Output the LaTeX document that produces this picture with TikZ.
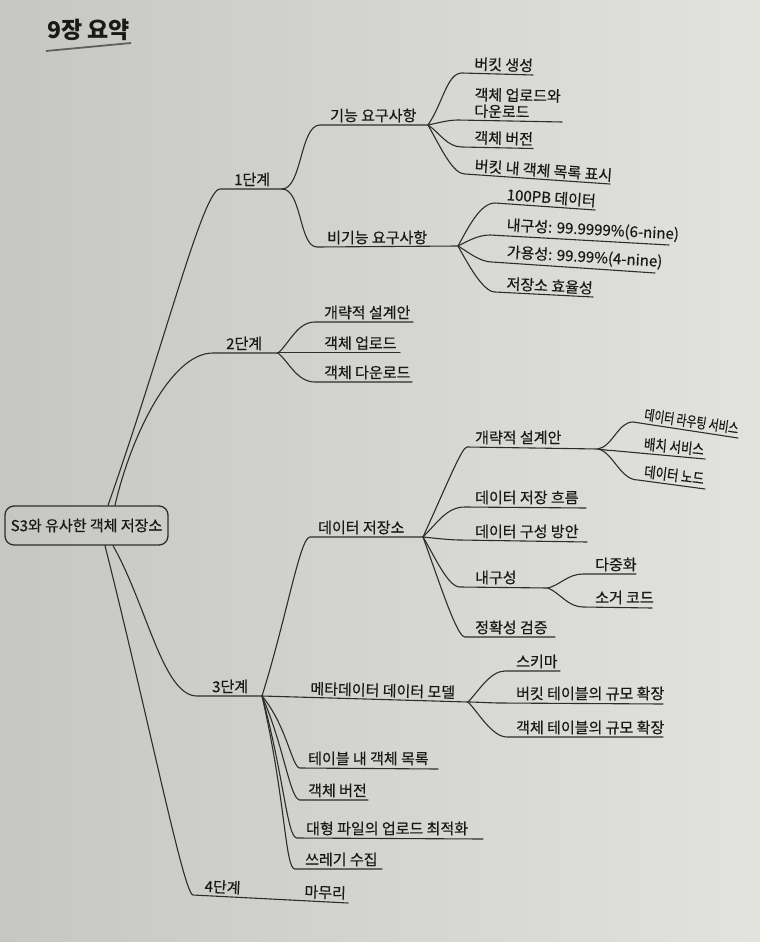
\documentclass[tikz,border=0pt]{standalone}
\usepackage{fontspec}
\usepackage{graphicx}
\setmainfont{Noto Sans CJK KR}
\newfontfamily\inkfont{Noto Sans CJK KR}[FakeBold=0.5]
\usetikzlibrary{calc}
\definecolor{paperL}{RGB}{198,198,194}
\definecolor{paperR}{RGB}{226,226,222}
\definecolor{ink}{RGB}{25,25,25}
\definecolor{wire}{RGB}{45,45,45}
\definecolor{rulec}{RGB}{95,95,95}
\newcommand\mmitem[6][]{%
  \node[lab,#1] (#2) at #3 {#6};
  \coordinate (#2-in) at #4;
  \coordinate (#2-out) at #5;
}
\begin{document}
\begin{tikzpicture}[x=1pt,y=-1pt,
  lab/.style={inner xsep=0pt,inner ysep=2.5pt,anchor=south west,text=ink,font=\inkfont\fontsize{15}{16.5}\selectfont},
  wirec/.style={draw=wire,line width=1.1pt,line cap=round},
  rootbox/.style={draw=wire,line width=1.3pt,rounded corners=9pt,minimum width=163pt,minimum height=39pt,inner sep=0pt,text=ink,font=\inkfont\fontsize{15}{16.5}\selectfont},
  titlef/.style={anchor=base west,inner sep=0pt,text=ink,font=\fontsize{23}{26}\selectfont\bfseries}]
\shade[left color=paperL,right color=paperR] (0,0) rectangle (760,942);
\useasboundingbox (0,0) rectangle (760,942);
% title
\node[titlef] (title) at (47,39) {9장 요약};
\coordinate (tl) at (46,51);
\coordinate (tr) at (131,43);
\draw[draw=rulec,line width=1.8pt] (tl) -- (tr);
% root
\node[rootbox] (root) at (86.5,525.5) {S3와 유사한 객체 저장소};
\coordinate (r1) at ([xshift=21.5pt]root.north);
\coordinate (r2) at ([xshift=28.5pt]root.north);
\coordinate (r3) at ([xshift=26.5pt]root.south);
\coordinate (r4) at ([xshift=18.5pt]root.south);
% stages
\mmitem{s1}{(234,189)}{(220,189)}{(282,189)}{1단계}
\mmitem{s2}{(226,353)}{(213,353)}{(278,353)}{2단계}
\mmitem{s3}{(212,696)}{(197,696)}{(262,696)}{3단계}
\mmitem[rotate=-3]{s4}{(204,895.5)}{(193,895)}{(290,900)}{4단계}
\draw[wirec] (r1) .. controls +(56,-159) and +(-17,0) .. (s1-in) -- (s1-out);
\draw[wirec] (r2) .. controls +(15,-66) and +(-43,0) .. (s2-in) -- (s2-out);
\draw[wirec] (r3) .. controls +(34,60) and +(-34,0) .. (s3-in) -- (s3-out);
\draw[wirec] (r4) .. controls +(44,175) and +(-9,0) .. (s4-in) -- (s4-out);
% 4단계
\mmitem[rotate=-2]{m1}{(304,901)}{(290,900)}{(348,903)}{마무리}
\draw[wirec] (s4-out) -- (m1-in) -- (m1-out);
% 1단계
\mmitem{a1}{(330,125)}{(320,125)}{(428,125)}{기능 요구사항}
\mmitem{a2}{(327,247)}{(317,247)}{(458,246)}{비기능 요구사항}
\draw[wirec] (s1-out) .. controls +(20,0) and +(-20,0) .. (a1-in) -- (a1-out);
\draw[wirec] (s1-out) .. controls +(20,0) and +(-18,0) .. (a2-in) -- (a2-out);
\mmitem[rotate=-1.5]{d1}{(474,73.5)}{(462,73)}{(533,75)}{버킷 생성}
\mmitem[rotate=-1,align=left]{d2}{(474,120.5)}{(458,120)}{(562,122)}{객체 업로드와\\다운로드}
\mmitem[rotate=-1.5]{d3}{(474,147)}{(462,147)}{(533,148.5)}{객체 버전}
\mmitem[rotate=-4]{d4}{(474,175)}{(465,174)}{(610,184)}{버킷 내 객체 목록 표시}
\draw[wirec] (a1-out) .. controls +(15,-22) and +(-15,0) .. (d1-in) -- (d1-out);
\draw[wirec] (a1-out) .. controls +(10,-2) and +(-10,0) .. (d2-in) -- (d2-out);
\draw[wirec] (a1-out) .. controls +(12,8) and +(-15,0) .. (d3-in) -- (d3-out);
\draw[wirec] (a1-out) .. controls +(14,25) and +(-12,0) .. (d4-in) -- (d4-out);
\mmitem[rotate=-4]{e1}{(506,204)}{(495,203)}{(595,210)}{100PB 데이터}
\mmitem[rotate=-3]{e2}{(506,236)}{(490,235)}{(669,245)}{내구성: 99.9999\%(6-nine)}
\mmitem[rotate=-3.5]{e3}{(506,263)}{(492,262)}{(655,273)}{가용성: 99.99\%(4-nine)}
\mmitem[rotate=-3]{e4}{(506,293)}{(495,292)}{(593,297)}{저장소 효율성}
\draw[wirec] (a2-out) .. controls +(10,-18) and +(-15,0) .. (e1-in) -- (e1-out);
\draw[wirec] (a2-out) .. controls +(10,-5) and +(-12,0) .. (e2-in) -- (e2-out);
\draw[wirec] (a2-out) .. controls +(10,6) and +(-12,0) .. (e3-in) -- (e3-out);
\draw[wirec] (a2-out) .. controls +(10,18) and +(-12,0) .. (e4-in) -- (e4-out);
% 2단계
\mmitem{b1}{(324,322)}{(315,322)}{(413,322)}{개략적 설계안}
\mmitem{b2}{(324,352.6)}{(278,352.6)}{(400,352.6)}{객체 업로드}
\mmitem{b3}{(324,382)}{(315,382)}{(412,382)}{객체 다운로드}
\draw[wirec] (s2-out) .. controls +(11,-9) and +(-18,0) .. (b1-in) -- (b1-out);
\draw[wirec] (s2-out) -- (b2-in) -- (b2-out);
\draw[wirec] (s2-out) .. controls +(11,9) and +(-18,0) .. (b3-in) -- (b3-out);
% 3단계
\mmitem{c1}{(318,537)}{(310,537)}{(423,537)}{데이터 저장소}
\mmitem[rotate=-1.5]{c2}{(310,698)}{(262,696)}{(468,702)}{메타데이터 데이터 모델}
\mmitem{c3}{(308,768)}{(300,768)}{(438,769)}{테이블 내 객체 목록}
\mmitem{c4}{(308,800)}{(300,800)}{(368,800)}{객체 버전}
\mmitem{c5}{(306,838)}{(297,838)}{(483,839)}{대형 파일의 업로드 최적화}
\mmitem{c6}{(305,869)}{(295,869)}{(382,869)}{쓰레기 수집}
\draw[wirec] (s3-out) .. controls +(25,-80) and +(-10,0) .. (c1-in) -- (c1-out);
\draw[wirec] (s3-out) -- (c2-in) -- (c2-out);
\draw[wirec] (s3-out) .. controls +(25,30) and +(-8,0) .. (c3-in) -- (c3-out);
\draw[wirec] (s3-out) .. controls +(22,50) and +(-10,0) .. (c4-in) -- (c4-out);
\draw[wirec] (s3-out) .. controls +(22,80) and +(-10,0) .. (c5-in) -- (c5-out);
\draw[wirec] (s3-out) .. controls +(24,105) and +(-10,0) .. (c6-in) -- (c6-out);
% 데이터 저장소
\mmitem{f1}{(475,447)}{(467,447)}{(598,449)}{개략적 설계안}
\mmitem{f2}{(475,507)}{(465,507)}{(586,508)}{데이터 저장 흐름}
\mmitem{f3}{(475,541)}{(460,540)}{(587,542)}{데이터 구성 방안}
\mmitem{f4}{(475,587)}{(460,587)}{(548,588)}{내구성}
\mmitem{f5}{(475,637)}{(465,637)}{(555,637)}{정확성 검증}
\draw[wirec] (c1-out) .. controls +(25,-55) and +(-5,0) .. (f1-in) -- (f1-out);
\draw[wirec] (c1-out) .. controls +(15,-15) and +(-18,0) .. (f2-in) -- (f2-out);
\draw[wirec] (c1-out) .. controls +(10,1) and +(-10,0) .. (f3-in) -- (f3-out);
\draw[wirec] (c1-out) .. controls +(12,20) and +(-12,0) .. (f4-in) -- (f4-out);
\draw[wirec] (c1-out) .. controls +(18,50) and +(-8,0) .. (f5-in) -- (f5-out);
\mmitem[rotate=-8.5]{g1}{(643,423.5)}{(633,422)}{(738,438)}{\scalebox{0.75}[1]{\fontsize{14.5}{15}\selectfont 데이터 라우팅 서비스}}
\mmitem[rotate=-5.3]{g2}{(643,453.3)}{(612,450.5)}{(705,459)}{\scalebox{0.83}[1]{배치 서비스}}
\mmitem[rotate=-7]{g3}{(643,480.8)}{(638,480)}{(705,489)}{\scalebox{0.83}[1]{데이터 노드}}
\draw[wirec] (f1-out) .. controls +(15,-3) and +(-15,0) .. (g1-in) -- (g1-out);
\draw[wirec] (f1-out) .. controls +(6,0.5) and +(-6,0) .. (g2-in) -- (g2-out);
\draw[wirec] (f1-out) .. controls +(15,3) and +(-18,0) .. (g3-in) -- (g3-out);
\mmitem{h1}{(595,574)}{(583,574)}{(636,574)}{다중화}
\mmitem{h2}{(595,607)}{(583,607)}{(652,608)}{소거 코드}
\draw[wirec] (f4-out) .. controls +(12,-3) and +(-15,0) .. (h1-in) -- (h1-out);
\draw[wirec] (f4-out) .. controls +(12,5) and +(-15,0) .. (h2-in) -- (h2-out);
% 메타데이터
\mmitem{i1}{(516,671)}{(505,671)}{(560,671)}{스키마}
\mmitem{i2}{(516,703)}{(500,703)}{(663,704)}{버킷 테이블의 규모 확장}
\mmitem{i3}{(516,737)}{(507,737)}{(663,737)}{객체 테이블의 규모 확장}
\draw[wirec] (c2-out) .. controls +(10,-10) and +(-15,0) .. (i1-in) -- (i1-out);
\draw[wirec] (c2-out) .. controls +(8,0) and +(-8,0) .. (i2-in) -- (i2-out);
\draw[wirec] (c2-out) .. controls +(10,10) and +(-15,0) .. (i3-in) -- (i3-out);
\end{tikzpicture}
\end{document}
